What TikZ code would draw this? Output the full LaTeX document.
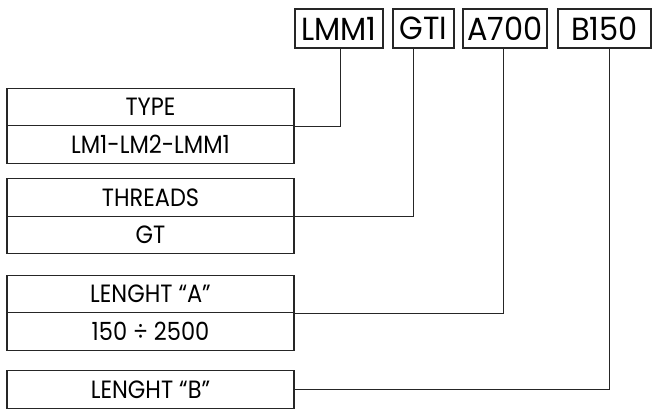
\documentclass[tikz,border=0pt]{standalone}
\usepackage{fontspec}
\setmainfont{Poppins}
\newfontfamily\cellfont{Poppins}[FakeStretch=0.9]
\newfontfamily\codefont{Poppins}[FakeStretch=0.95]
\begin{document}
\begin{tikzpicture}[x=1pt,y=-1pt,
  cell/.style={draw=black!85,line width=1.1pt,minimum width=287pt,minimum height=37.5pt,inner sep=0pt,font=\cellfont\fontsize{25}{27}\selectfont},
  code/.style={draw=black!85,line width=1.1pt,minimum height=39pt,inner sep=0pt,font=\codefont\fontsize{32}{34}\selectfont},
  link/.style={draw=black!85,line width=1.1pt}]
\useasboundingbox (0,0) rectangle (657,408);
% code boxes
\node[code,minimum width=88pt] (c1) at (339,28.5) {LMM1};
\node[code,minimum width=61pt] (c2) at (423.5,28.5) {GTI};
\node[code,minimum width=84pt] (c3) at (505,28.5) {A700};
\node[code,minimum width=93pt] (c4) at (604.5,28.5) {B150};
% left cells
\node[cell] (type) at (150.5,107) {\raisebox{-2pt}{TYPE}};
\node[cell] (typev) at (150.5,144.5) {LM1-LM2-LMM1};
\node[cell] (thr) at (150.5,197.5) {\raisebox{-2pt}{THREADS}};
\node[cell] (thrv) at (150.5,235) {GT};
\node[cell] (lena) at (150.5,294) {\raisebox{-2pt}{LENGHT “A”}};
\node[cell] (lenav) at (150.5,331.5) {150 ÷ 2500};
\node[cell] (lenb) at (150.5,389.5) {LENGHT “B”};
% connectors
\draw[link] ([xshift=46pt]c1.south west) |- (type.south east);
\draw[link] ([xshift=21pt]c2.south west) |- (thr.south east);
\draw[link] ([xshift=41pt]c3.south west) |- (lena.south east);
\draw[link] ([xshift=52pt]c4.south west) |- (lenb.east);
\end{tikzpicture}
\end{document}
